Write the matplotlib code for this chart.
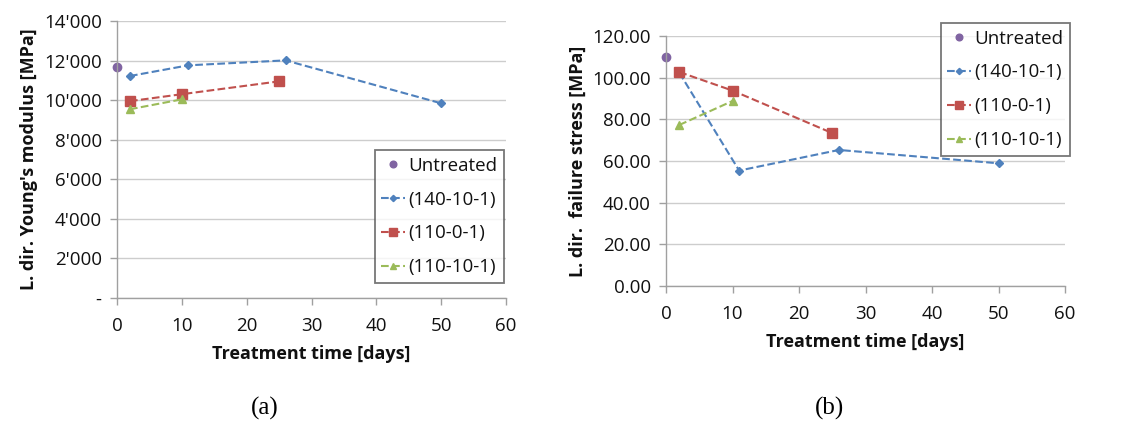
import matplotlib
matplotlib.use("Agg")
import matplotlib.pyplot as plt
from matplotlib.ticker import FuncFormatter

# ---- data ----
untreated_x = [0]
untreated_E = [11700]
untreated_S = [110.0]

x_140 = [2, 11, 26, 50]
E_140 = [11220, 11760, 12010, 9840]
x_140s = [2, 11, 26, 50]
S_140 = [102.4, 55.4, 65.3, 58.9]

x_110_0 = [2, 10, 25]
E_110_0 = [9950, 10300, 10950]
S_110_0 = [102.7, 93.8, 73.4]

x_110_10 = [2, 10]
E_110_10 = [9540, 10040]
S_110_10 = [77.3, 88.8]

labels = ["Untreated", "(140-10-1)", "(110-0-1)", "(110-10-1)"]
xticks = [0, 10, 20, 30, 40, 50, 60]

C_PURPLE = "#8064A2"
C_BLUE = "#4F81BD"
C_RED = "#C0504D"
C_GREEN = "#9BBB59"

W, H = 1124, 425
FONT = "Open Sans"
plt.rcParams["font.family"] = [FONT, "DejaVu Sans"]
fig = plt.figure(figsize=(W / 100, H / 100), dpi=100)

TICK_FS = 13.5
LABEL_FS = 13
LEG_FS = 13.5


def ax_rect(l, r, t, b):
    return [l / W, 1 - b / H, (r - l) / W, (b - t) / H]


def style(ax):
    for s in ["top", "right"]:
        ax.spines[s].set_visible(False)
    for s in ["left", "bottom"]:
        ax.spines[s].set_color("#A0A0A0")
        ax.spines[s].set_linewidth(1.0)
    ax.grid(axis="y", color="#CDCDCD", linewidth=1.0)
    ax.set_axisbelow(True)
    ax.tick_params(axis="both", colors="#A0A0A0", labelcolor="#111111",
                   labelsize=TICK_FS, length=5, width=1)
    ax.tick_params(axis="x", pad=9)
    ax.tick_params(axis="y", pad=6)
    ax.set_xlim(0, 60)
    ax.set_xticks(xticks)
    ax.set_xlabel("Treatment time [days]", fontsize=LABEL_FS, fontweight="bold",
                  labelpad=7, color="#111111")


def plot_series(ax, ux, uy, x1, y1, x2, y2, x3, y3):
    ax.plot(ux, uy, linestyle="none", marker="o", color=C_PURPLE, markersize=6,
            label=labels[0], clip_on=False)
    ax.plot(x1, y1, linestyle="--", marker="D", color=C_BLUE, markersize=4,
            linewidth=1.5, label=labels[1], clip_on=False)
    ax.plot(x2, y2, linestyle="--", marker="s", color=C_RED, markersize=6.5,
            linewidth=1.5, label=labels[2], clip_on=False)
    ax.plot(x3, y3, linestyle="--", marker="^", color=C_GREEN, markersize=5.5,
            linewidth=1.5, label=labels[3], clip_on=False)


def legend(ax, right, top):
    leg = ax.legend(loc="upper right", bbox_to_anchor=(right / W, 1 - top / H),
                    bbox_transform=fig.transFigure, fontsize=LEG_FS,
                    frameon=True, fancybox=False, edgecolor="#555555",
                    handlelength=1.25, handletextpad=0.2, borderpad=0.35,
                    labelspacing=0.85, borderaxespad=0, markerscale=0.8)
    leg.get_frame().set_linewidth(1.3)
    for t in leg.get_texts():
        t.set_color("#111111")
    return leg


# ---- (a) ----
ax1 = fig.add_axes(ax_rect(117, 506, 21, 298))
plot_series(ax1, untreated_x, untreated_E, x_140, E_140, x_110_0, E_110_0, x_110_10, E_110_10)
style(ax1)
ax1.set_ylim(0, 14000)
ax1.set_yticks(range(0, 14001, 2000))
ax1.yaxis.set_major_formatter(FuncFormatter(
    lambda v, p: "-" if v == 0 else "{:,.0f}".format(v).replace(",", "'")))
ax1.set_ylabel("L. dir. Young's modulus [MPa]", fontsize=LABEL_FS, fontweight="bold",
               labelpad=4, color="#111111")
legend(ax1, 504, 150)

# ---- (b) ----
ax2 = fig.add_axes(ax_rect(666, 1065, 36, 286))
plot_series(ax2, untreated_x, untreated_S, x_140s, S_140, x_110_0, S_110_0, x_110_10, S_110_10)
style(ax2)
ax2.set_ylim(0, 120)
ax2.set_yticks(range(0, 121, 20))
ax2.yaxis.set_major_formatter(FuncFormatter(lambda v, p: "{:.2f}".format(v)))
ax2.set_ylabel("L. dir.  failure stress [MPa]", fontsize=LABEL_FS, fontweight="bold",
               labelpad=4, color="#111111")
legend(ax2, 1070, 23)

fig.text(265 / W, 1 - 408 / H, "(a)", fontsize=18, family="Liberation Serif",
         ha="center", va="center")
fig.text(830 / W, 1 - 408 / H, "(b)", fontsize=18, family="Liberation Serif",
         ha="center", va="center")

fig.savefig("out.png", dpi=100, facecolor="white")
